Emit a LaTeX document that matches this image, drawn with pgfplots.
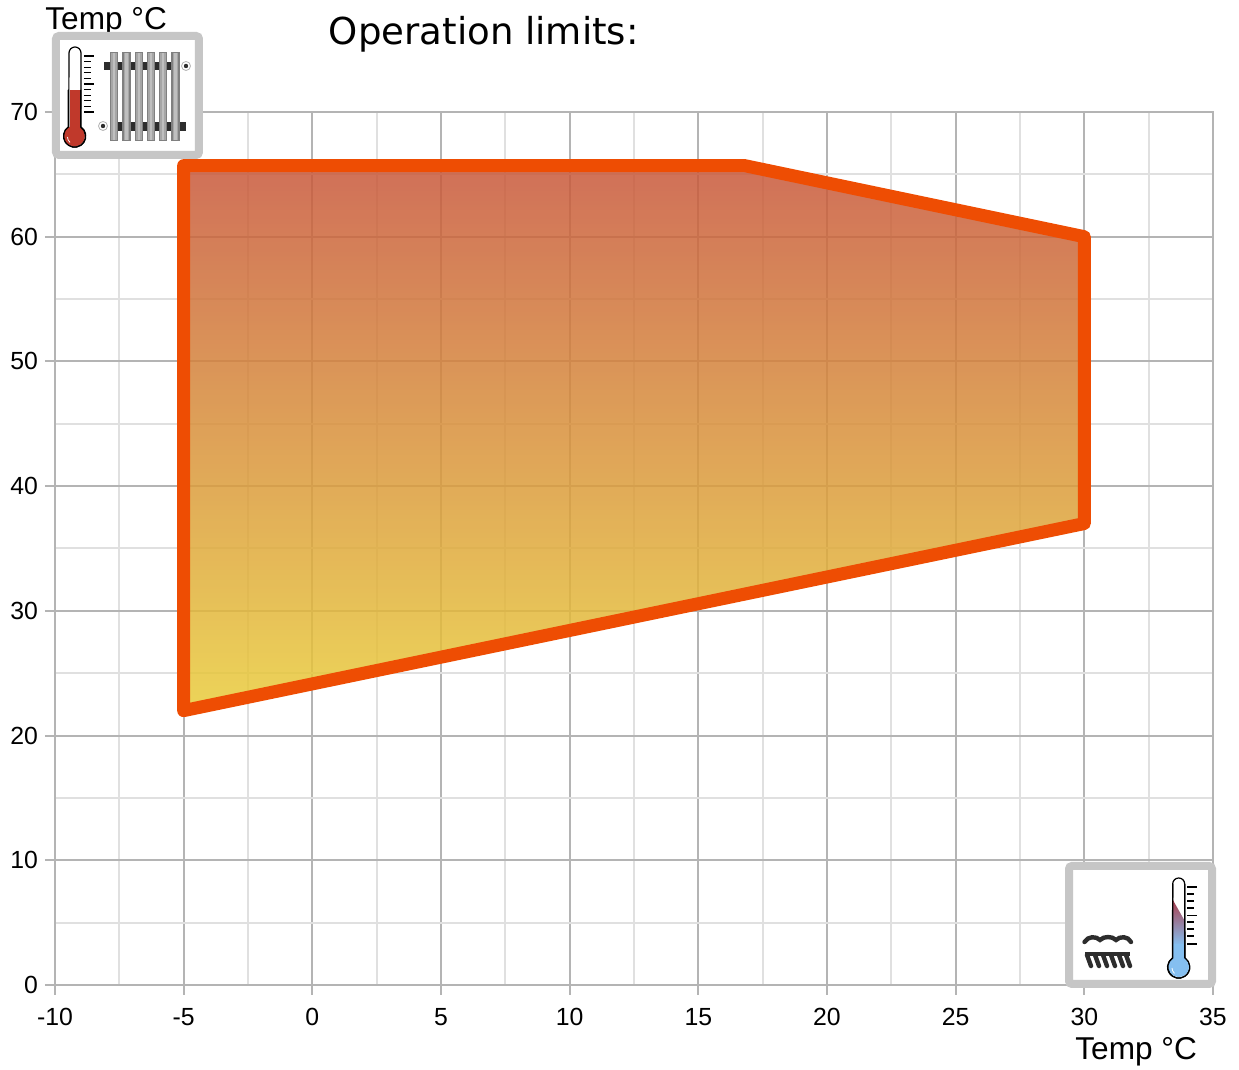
\documentclass[border=0pt]{standalone}
\usepackage{pgfplots}
\pgfplotsset{compat=1.18}
\usepackage{fontspec}
\setmainfont{Liberation Sans}
\newfontfamily\titlefont{DejaVu Sans}
\definecolor{majg}{RGB}{180,180,180}
\definecolor{ming}{RGB}{224,224,224}
\definecolor{boxg}{RGB}{198,198,198}
\definecolor{lineo}{RGB}{238,77,3}
\definecolor{topc}{RGB}{200,87,59}
\definecolor{botc}{RGB}{233,205,59}
\definecolor{redt}{RGB}{192,57,43}
\definecolor{darkb}{RGB}{45,45,45}
\definecolor{bluet}{RGB}{133,191,240}
\definecolor{redb}{RGB}{168,64,80}
\pgfplotstableread{
x y
-5 22
-5 65.7
16.8 65.7
30 60
30 37
-5 22
}\limits
\begin{document}
\begin{tikzpicture}[line cap=butt]
\useasboundingbox (-27.5pt,-42.5pt) rectangle (592pt,492.5pt);
\begin{axis}[
  at={(0pt,0pt)}, anchor=south west,
  scale only axis, width=579pt, height=436.5pt,
  xmin=-10, xmax=35, ymin=0, ymax=70,
  xtick={-10,-5,...,35},
  xticklabels={-10,-5,0,5,10,15,20,25,30,35},
  ytick={0,10,...,70},
  yticklabels={0,10,20,30,40,50,60,70},
  minor xtick={-7.5,-2.5,2.5,7.5,12.5,17.5,22.5,27.5,32.5},
  minor ytick={5,15,25,35,45,55,65},
  grid=both,
  major grid style={majg,line width=1pt},
  minor grid style={ming,line width=1pt},
  axis line style={majg,line width=1pt},
  major tick style={majg,line width=1pt},
  minor tick length=0pt,
  major tick length=5pt,
  tick align=outside,
  tick pos=left,
  tick label style={font=\fontsize{12.4}{14}\selectfont,text=black},
  xticklabel style={yshift=-3pt},
  yticklabel style={xshift=0pt},
]
\addplot[draw=none, top color=topc, bottom color=botc, fill opacity=0.85, opacity=0.85] table {\limits} -- cycle;
\addplot[draw=lineo, line width=6.5pt, line join=round, no markers] table {\limits} -- cycle;
\end{axis}
\begin{scope}[shift={(-27.5pt,492.5pt)}, x=0.5pt, y=-0.5pt]
\node[anchor=base west, inner sep=0pt, font=\titlefont\fontsize{18.55}{22}\selectfont] at (328.5,44.5) {Operation limits:};
\node[anchor=base west, inner sep=0pt, font=\fontsize{15.8}{18}\selectfont] at (45,29.5) {Temp °C};
\node[anchor=base west, inner sep=0pt, font=\fontsize{15.8}{18}\selectfont] at (1075,1059.5) {Temp °C};
% left box
\draw[boxg, fill=white, line width=4pt, rounded corners=1.5pt] (56,36) rectangle (199,155);
% thermometer
\draw[black, line width=0.6pt, fill=white] (69,53) arc[start angle=180,end angle=360,radius=6] -- (81,127) arc[start angle=-56,end angle=236,radius=11] -- cycle;
\fill[redt] (69.7,90) rectangle (80.3,128);
\fill[redt] (74.5,136) circle[radius=10.4];
\draw[black, line width=0.6pt] (68.3,90) -- (68.3,127) arc[start angle=236,end angle=-56,radius=11] -- (80.7,90);
\draw[white, line width=0.4pt] (67.5,137) arc[start angle=180,end angle=130,radius=7];
\foreach \yy/\xe in {56/94,61.6/91,67.2/91,72.8/91,78.4/91,84/94,89.6/91,95.2/91,100.8/91,106.4/91,112/94}{\draw[black,line width=0.55pt] (84,\yy)--(\xe,\yy);}
% radiator
\fill[darkb] (104,62) rectangle (180,70);
\fill[darkb] (110,122.5) rectangle (186,131);
\foreach \xx in {114.3,126.7,139,151.3,163.3,175.7}{
  \fill[gray] (\xx-4.2,52) rectangle (\xx+4.2,141);
  \fill[gray!70] (\xx-2.8,53) rectangle (\xx+2.8,140);
  \fill[gray!50] (\xx-1.2,53) rectangle (\xx+1.2,140);
}
\foreach \cx/\cy in {186/66,103/126}{
  \fill[white] (\cx,\cy) circle[radius=5];
  \draw[gray!60,line width=0.4pt] (\cx,\cy) circle[radius=4.5];
  \fill[darkb] (\cx,\cy) circle[radius=2.2];
}
% right box
\draw[boxg, fill=white, line width=4pt, rounded corners=1.5pt] (1069,866) rectangle (1212,984);
\draw[black, line width=0.6pt, fill=white] (1172.7,884) arc[start angle=180,end angle=360,radius=6] -- (1184.7,958) arc[start angle=-56,end angle=236,radius=11] -- cycle;
\shade[top color=redb, bottom color=bluet] (1173.3,900.7) -- (1184.2,920) -- (1184.2,945) -- (1173.3,945) -- cycle;
\fill[bluet] (1173.3,944.5) rectangle (1184.2,962);
\fill[bluet] (1178.7,966.7) circle[radius=10.4];
\draw[black, line width=0.6pt] (1172.7,884) -- (1172.7,958) arc[start angle=236,end angle=-56,radius=11] -- (1184.7,884);
\draw[white, line width=0.4pt] (1172,968) arc[start angle=180,end angle=130,radius=7];
\foreach \yy/\xe in {887/1197,894/1194,901/1194,908/1194,915.5/1197,922/1194,929/1194,936/1194,944/1197}{\draw[black,line width=0.55pt] (1187,\yy)--(\xe,\yy);}
% ground icon
\draw[darkb, line width=2.2pt, line cap=round] (1084.5,942) .. controls (1088,936) and (1096,936) .. (1100,940) .. controls (1104,936) and (1112,936) .. (1116,940) .. controls (1120,936) and (1128,936) .. (1131,942);
\draw[darkb, line width=2.2pt] (1085,954) -- (1130,954);
\foreach \xx in {1090,1098,1106,1114,1122,1129}{\draw[darkb,line width=2.2pt,line cap=round] (\xx-3,955)--(\xx+1,966);}
\end{scope}
\end{tikzpicture}
\end{document}
